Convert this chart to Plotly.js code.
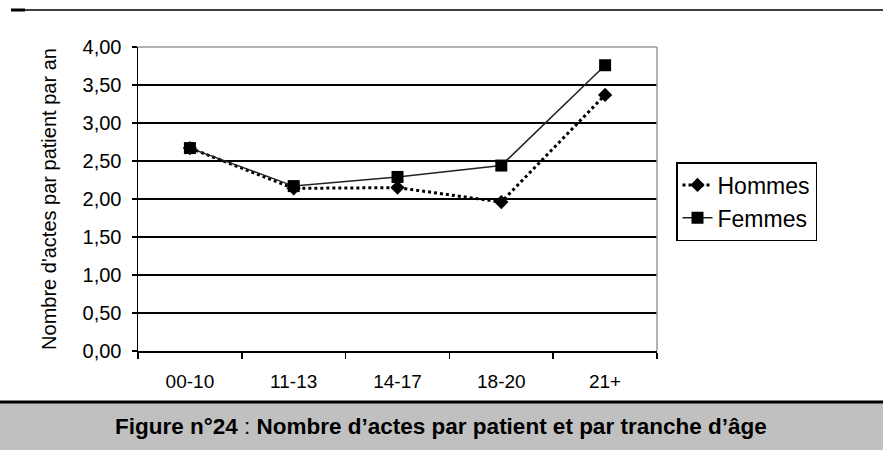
<!DOCTYPE html>
<html><head><meta charset="utf-8">
<script src="https://cdn.plot.ly/plotly-3.0.1.min.js"></script>
<style>html,body{margin:0;padding:0;background:#fff}</style>
</head><body><div id="chart" style="width:883px;height:450px"></div>
<script>
const categories = ["00-10", "11-13", "14-17", "18-20", "21+"];
const hommes = [2.67, 2.14, 2.15, 1.96, 3.37];
const femmes = [2.67, 2.17, 2.29, 2.44, 3.76];
const yTicks = [0, 0.5, 1, 1.5, 2, 2.5, 3, 3.5, 4];
const seriesNames = ["Hommes", "Femmes"];
const yTitle = "Nombre d'actes par patient par an";
const figTitle = "<b>Figure n°24</b> : <b>Nombre d’actes par patient et par tranche d’âge</b>";

const traces = [
  {x: categories, y: hommes, name: seriesNames[0], type: "scatter", mode: "lines+markers",
   line: {color: "#000", width: 3, dash: "dot"},
   marker: {symbol: "diamond", size: 11, color: "#000"}},
  {x: categories, y: femmes, name: seriesNames[1], type: "scatter", mode: "lines+markers",
   line: {color: "#222", width: 1.5},
   marker: {symbol: "square", size: 12, color: "#000"}}
];

const pxX = p => (p - 138) / 519;
const pxY = p => (351 - p) / 304;

const layout = {
  width: 883, height: 450,
  margin: {l: 138, r: 226, t: 47, b: 99},
  paper_bgcolor: "#fff", plot_bgcolor: "#fff",
  separators: ", ",
  font: {family: "Liberation Sans, Arial, sans-serif", color: "#000"},
  showlegend: true,
  legend: {x: pxX(676), y: pxY(162), xanchor: "left", yanchor: "top",
           bordercolor: "#000", borderwidth: 1.5, bgcolor: "#fff",
           font: {size: 23, family: "Liberation Sans, Arial, sans-serif"},
           tracegroupgap: 0},
  xaxis: {type: "category", range: [-0.5, 4.5], tickson: "boundaries",
          ticks: "outside", ticklen: 6, tickcolor: "#000", tickwidth: 1.5,
          showline: true, linecolor: "#000", linewidth: 1.5, showgrid: false,
          tickfont: {size: 19}, ticklabelstandoff: 13,
          fixedrange: true},
  yaxis: {range: [0, 4], tickvals: yTicks, tickformat: ".2f",
          ticks: "outside", ticklen: 5, tickcolor: "#000", tickwidth: 1.5,
          showline: true, linecolor: "#000", linewidth: 1.5,
          showgrid: true, gridcolor: "#000", gridwidth: 1.5, zeroline: false,
          tickfont: {size: 20}, ticklabelstandoff: 6,
          title: {text: yTitle, font: {size: 20}, standoff: 20},
          fixedrange: true},
  shapes: [
    {type: "line", xref: "paper", yref: "paper", x0: pxX(657), x1: pxX(657), y0: 0, y1: 1,
     line: {color: "#999", width: 1.5}},
    {type: "line", xref: "paper", yref: "paper", x0: pxX(138), x1: pxX(657), y0: 1, y1: 1,
     line: {color: "#999", width: 1.5}},
    {type: "line", xref: "paper", yref: "paper", x0: pxX(11), x1: pxX(883), y0: pxY(10), y1: pxY(10),
     line: {color: "#000", width: 1.5}},
    {type: "line", xref: "paper", yref: "paper", x0: pxX(11), x1: pxX(25), y0: pxY(10), y1: pxY(10),
     line: {color: "#000", width: 3}},
    {type: "rect", xref: "paper", yref: "paper", x0: pxX(0), x1: pxX(883), y0: pxY(450), y1: pxY(402),
     fillcolor: "#c0c0c0", line: {width: 0}, layer: "below"},
    {type: "line", xref: "paper", yref: "paper", x0: pxX(0), x1: pxX(883), y0: pxY(402), y1: pxY(402),
     line: {color: "#000", width: 3}}
  ],
  annotations: [
    {text: figTitle, xref: "paper", yref: "paper", x: pxX(441), y: pxY(426),
     xanchor: "center", yanchor: "middle", showarrow: false,
     font: {size: 22.5, family: "Liberation Sans, Arial, sans-serif", color: "#000"}}
  ]
};

Plotly.newPlot("chart", traces, layout, {displayModeBar: false, staticPlot: true});
</script></body></html>
